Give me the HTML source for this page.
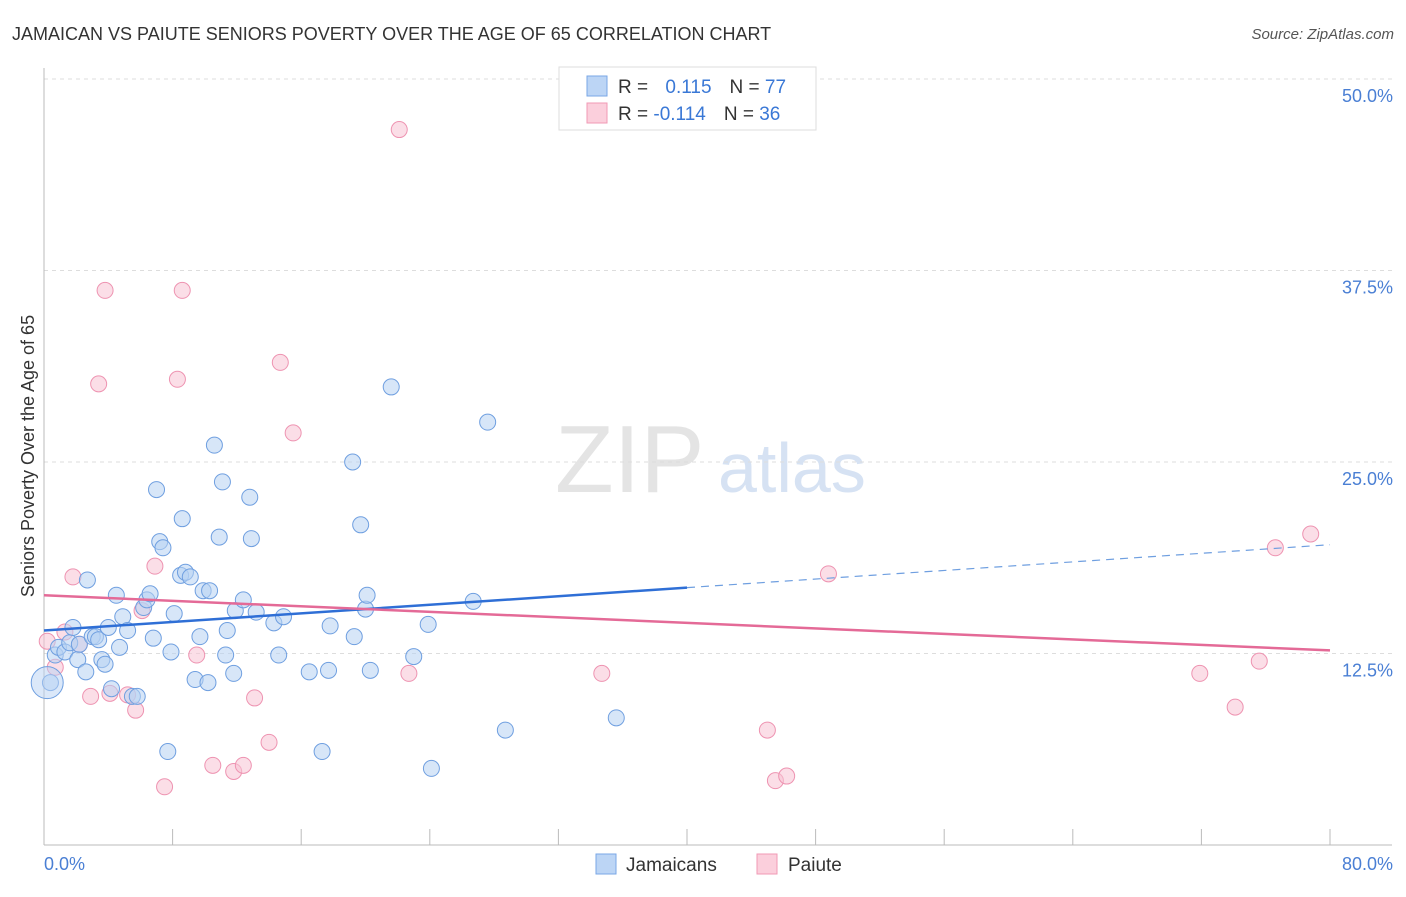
<!DOCTYPE html>
<html><head><meta charset="utf-8"><style>
body{margin:0;background:#fff;font-family:"Liberation Sans",sans-serif}
svg text{font-family:"Liberation Sans",sans-serif}
</style></head><body>
<svg id="c" width="1406" height="892" xmlns="http://www.w3.org/2000/svg">
<text x="12" y="40" font-size="18" fill="#333">JAMAICAN VS PAIUTE SENIORS POVERTY OVER THE AGE OF 65 CORRELATION CHART</text>
<text x="1394" y="39" font-size="15" fill="#555" text-anchor="end" font-style="italic">Source: ZipAtlas.com</text>
<text x="555" y="492" font-size="96" fill="#e4e4e4" font-family="Liberation Serif">ZIP</text>
<text x="718" y="492" font-size="70" fill="#d6e2f3">atlas</text>
<g id="grid"></g><g id="axes"></g><g id="marks"></g>
<text transform="translate(34,456) rotate(-90)" font-size="18" fill="#333" text-anchor="middle">Seniors Poverty Over the Age of 65</text>
<text x="44" y="870" font-size="18" fill="#4a7fd4">0.0%</text>
<text x="1393" y="870" font-size="18" fill="#4a7fd4" text-anchor="end">80.0%</text>
<g>
<rect x="559" y="67" width="257" height="63" fill="#fff" stroke="#ddd"/>
<rect x="587" y="76" width="20" height="20" fill="#bcd5f5" stroke="#7aa7e6"/>
<rect x="587" y="103" width="20" height="20" fill="#fbcfdc" stroke="#f09ab5"/>
<text x="618" y="93" font-size="19" fill="#333">R = <tspan fill="#3a78d6" dx="12">0.115</tspan><tspan dx="18" fill="#333">N = </tspan><tspan fill="#3a78d6">77</tspan></text>
<text x="618" y="120" font-size="19" fill="#333">R = <tspan fill="#3a78d6">-0.114</tspan><tspan dx="18" fill="#333">N = </tspan><tspan fill="#3a78d6">36</tspan></text>
</g>
<g>
<rect x="596" y="854" width="20" height="20" fill="#bcd5f5" stroke="#7aa7e6"/>
<text x="626" y="871" font-size="19" fill="#333">Jamaicans</text>
<rect x="757" y="854" width="20" height="20" fill="#fbcfdc" stroke="#f09ab5"/>
<text x="788" y="871" font-size="19" fill="#333">Paiute</text>
</g>
</svg>
<script>
const yTicks=[12.5,25,37.5,50];
const yTickLabels=["12.5%","25.0%","37.5%","50.0%"];
const xTicks=[0,8,16,24,32,40,48,56,64,72,80];
const blueX=[0.4,0.7,0.9,1.3,1.6,1.8,2.1,2.2,2.6,2.7,3.0,3.2,3.4,3.6,3.8,4.0,4.2,4.5,4.7,4.9,5.2,5.5,5.8,6.2,6.4,6.6,6.8,7.0,7.2,7.4,7.7,7.9,8.1,8.5,8.6,8.8,9.1,9.4,9.7,9.9,10.2,10.3,10.6,10.9,11.1,11.3,11.4,11.8,11.9,12.4,12.8,12.9,13.2,14.3,14.6,14.9,16.5,17.3,17.7,17.8,19.2,19.3,19.7,20.0,20.1,20.3,21.6,23.0,23.9,24.1,26.7,27.6,28.7,35.6];
const blueY=[10.6,12.4,12.9,12.6,13.2,14.2,12.1,13.1,11.3,17.3,13.6,13.6,13.4,12.1,11.8,14.2,10.2,16.3,12.9,14.9,14.0,9.7,9.7,15.5,16.0,16.4,13.5,23.2,19.8,19.4,6.1,12.6,15.1,17.6,21.3,17.8,17.5,10.8,13.6,16.6,10.6,16.6,26.1,20.1,23.7,12.4,14.0,11.2,15.3,16.0,22.7,20.0,15.2,14.5,12.4,14.9,11.3,6.1,11.4,14.3,25.0,13.6,20.9,15.4,16.3,11.4,29.9,12.3,14.4,5.0,15.9,27.6,7.5,8.3];
const pinkX=[0.2,0.7,1.3,1.8,2.2,2.9,3.4,3.8,4.1,5.2,5.7,6.1,6.9,7.5,8.3,8.6,9.5,10.5,11.8,12.4,13.1,14.0,14.7,15.5,22.1,22.7,34.7,45.0,45.5,46.2,48.8,71.9,74.1,75.6,76.6,78.8];
const pinkY=[13.3,11.6,13.9,17.5,13.1,9.7,30.1,36.2,9.9,9.8,8.8,15.3,18.2,3.8,30.4,36.2,12.4,5.2,4.8,5.2,9.6,6.7,31.5,26.9,46.7,11.2,11.2,7.5,4.2,4.5,17.7,11.2,9.0,12.0,19.4,20.3];
const blueTrend=[14.0,19.6];
const pinkTrend=[16.3,12.7];
const NS="http://www.w3.org/2000/svg";
const X=v=>44+v/80*1286, Y=v=>845-v*15.32;
function mk(t,a,p){const e=document.createElementNS(NS,t);for(const k in a)e.setAttribute(k,a[k]);p.appendChild(e);return e;}
const g=document.getElementById('grid'),ax=document.getElementById('axes'),m=document.getElementById('marks');
yTicks.forEach((t,i)=>{
 const l=mk('line',{x1:44,x2:1392,y1:Y(t),y2:Y(t),stroke:'#ddd','stroke-dasharray':'4,4'},g);
 
 
 const tx=mk('text',{x:1393,y:Y(t)+23,'font-size':18,fill:'#4a7fd4','text-anchor':'end'},g);
 tx.textContent=yTickLabels[i];
 
 
});
const topGrid=mk('line',{x1:44,x2:1392,y1:79,y2:79,stroke:'#ddd','stroke-dasharray':'4,4'},g);


const ya=mk('line',{x1:44,x2:44,y1:68,y2:845,stroke:'#bbb'},ax);


const xa=mk('line',{x1:44,x2:1392,y1:845,y2:845,stroke:'#bbb'},ax);


xTicks.forEach(t=>{const l=mk('line',{x1:X(t),x2:X(t),y1:829,y2:845,stroke:'#bbb'},ax);
 
 });
function pts(xs,ys,f,s,name){xs.forEach((x,i)=>{const c=mk('circle',{cx:X(x),cy:Y(ys[i]),r:8,fill:f,'fill-opacity':0.55,stroke:s,'stroke-width':1},m);
 
 });}
pts(pinkX,pinkY,'#f8c3d4','#ee93b1','paiute-point');
pts(blueX,blueY,'#b7d1f3','#6f9fe0','jamaican-point');
const big=mk('circle',{cx:X(0.2),cy:Y(10.6),r:16,fill:'#b7d1f3','fill-opacity':0.5,stroke:'#6f9fe0'},m);


const bm=blueTrend[0]+(blueTrend[1]-blueTrend[0])/2;
const b1=mk('line',{x1:X(0),y1:Y(blueTrend[0]),x2:X(40),y2:Y(bm),stroke:'#2f6fd6','stroke-width':2.5},m);


const b2=mk('line',{x1:X(40),y1:Y(bm),x2:X(80),y2:Y(blueTrend[1]),stroke:'#6f9fe0','stroke-width':1.2,'stroke-dasharray':'8,6'},m);


const p1=mk('line',{x1:X(0),y1:Y(pinkTrend[0]),x2:X(80),y2:Y(pinkTrend[1]),stroke:'#e46a97','stroke-width':2.5},m);


</script>
</body></html>
